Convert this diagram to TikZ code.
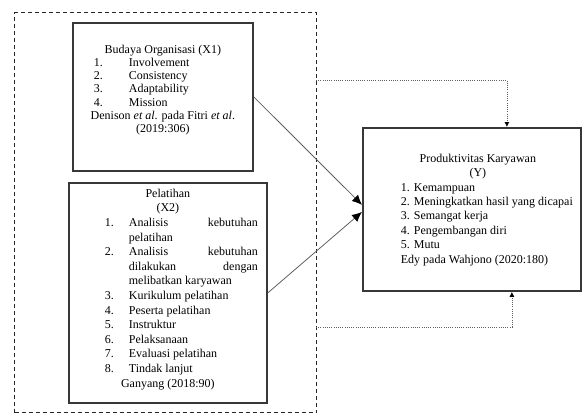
\documentclass[tikz,border=0pt]{standalone}
\usepackage{fontspec}
\setmainfont{Liberation Serif}
\usepackage{xcolor}
\usepackage{tikz}
\usetikzlibrary{arrows.meta, positioning, calc}
\definecolor{boxline}{RGB}{55,55,55}
\definecolor{linkgray}{RGB}{95,95,95}

\begin{document}
\begin{tikzpicture}[
    x=1pt, y=-1pt,
    varbox/.style={rectangle, draw=boxline, line width=1.8pt, inner sep=0pt, anchor=north west, text=black},
    groupframe/.style={rectangle, draw=black!85, line width=1.3pt, dash pattern=on 4pt off 3pt, inner sep=0pt, anchor=north west},
    arrow/.style={draw=linkgray, line width=0.8pt, -{Latex[length=10pt,width=9pt,black]}},
    dotarrow/.style={draw=linkgray, line width=0.8pt, dash pattern=on 1pt off 1.2pt, -{Latex[length=5pt,width=5pt,black]}}
]
\useasboundingbox (0,0) rectangle (582,413);

% dashed group round X1 and X2
\node[groupframe, minimum width=302pt, minimum height=400pt] (group) at (14,12) {};

\node[varbox] (x1) at (72,22) {\parbox[c][148pt][t]{180pt}{\fontsize{12}{13.2}\selectfont
  \vspace*{22pt}
  \centering Budaya Organisasi (X1)\par
  \raggedright
  \hspace*{21pt}\makebox[35pt][l]{1.}Involvement\par
  \hspace*{21pt}\makebox[35pt][l]{2.}Consistency\par
  \hspace*{21pt}\makebox[35pt][l]{3.}Adaptability\par
  \hspace*{21pt}\makebox[35pt][l]{4.}Mission\par
  \centering Denison \textit{et al}. pada Fitri \textit{et al}.\par
  (2019:306)\par}};

\node[varbox] (x2) at (68,182) {\parbox[c][220pt][t]{198pt}{\fontsize{12}{14.6}\selectfont
  \vspace*{6pt}
  \centering Pelatihan\par
  (X2)\par
  {\leftskip=60pt\rightskip=9pt plus 1fil\parfillskip=0pt plus 1fil
  \noindent\hspace*{-24pt}\makebox[24pt][l]{1.}Analisis\hfill kebutuhan\\pelatihan\par
  \noindent\hspace*{-24pt}\makebox[24pt][l]{2.}Analisis\hfill kebutuhan\\dilakukan\hfill dengan\\melibatkan karyawan\par
  \noindent\hspace*{-24pt}\makebox[24pt][l]{3.}Kurikulum pelatihan\par
  \noindent\hspace*{-24pt}\makebox[24pt][l]{4.}Peserta pelatihan\par
  \noindent\hspace*{-24pt}\makebox[24pt][l]{5.}Instruktur\par
  \noindent\hspace*{-24pt}\makebox[24pt][l]{6.}Pelaksanaan\par
  \noindent\hspace*{-24pt}\makebox[24pt][l]{7.}Evaluasi pelatihan\par
  \noindent\hspace*{-24pt}\makebox[24pt][l]{8.}Tindak lanjut\par}
  \centering Ganyang (2018:90)\par}};

\node[varbox] (y) at (362,127) {\parbox[c][163pt][t]{218pt}{\fontsize{12}{14.4}\selectfont
  \vspace*{26pt}
  {\leftskip=38pt plus 1fil\rightskip=26pt plus 1fil\parfillskip=0pt
  Produktivitas Karyawan\par
  (Y)\par}
  {\leftskip=38pt\rightskip=0pt plus 1fil
  1. Kemampuan\par
  2. Meningkatkan hasil yang dicapai\par
  3. Semangat kerja\par
  4. Pengembangan diri\par
  5. Mutu\par
  Edy pada Wahjono (2020:180)\par}}};

\draw[arrow] (x1.east) -- ([yshift=4.5pt]y.west);
\draw[arrow] (x2.east) -- ([yshift=-2.5pt]y.west);

\coordinate (c1) at (316,80);
\coordinate (c2) at (316,327);
\draw[dotarrow] (c1) -| ([xshift=35pt]y.north);
\draw[dotarrow] (c2) -| ([xshift=40pt]y.south);
\end{tikzpicture}
\end{document}
